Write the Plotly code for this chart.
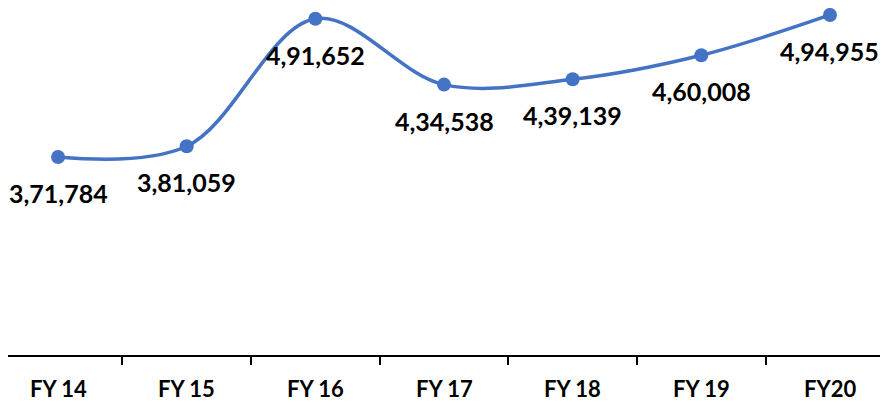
import plotly.graph_objects as go

years = ["FY 14", "FY 15", "FY 16", "FY 17", "FY 18", "FY 19", "FY20"]
values = [371784, 381059, 491652, 434538, 439139, 460008, 494955]
labels = ["3,71,784", "3,81,059", "4,91,652", "4,34,538", "4,39,139", "4,60,008", "4,94,955"]

blue = "#4472C4"
font = "Lato"

fig = go.Figure(
    go.Scatter(
        x=list(range(len(years))),
        y=values,
        mode="lines+markers",
        line=dict(color=blue, width=3.5, shape="spline", smoothing=1.0),
        marker=dict(color=blue, size=14),
        cliponaxis=False,
        hoverinfo="skip",
    )
)

for i, (v, t) in enumerate(zip(values, labels)):
    fig.add_annotation(
        x=i, y=v, text="<b>%s</b>" % t, showarrow=False,
        yshift=-36, font=dict(family=font, size=25, color="#000000"),
    )

# page body has an 8px margin, so the figure is 8px smaller each way
fig.update_layout(
    width=880,
    height=395,
    margin=dict(l=0, r=0, t=0, b=48),
    plot_bgcolor="white",
    paper_bgcolor="white",
    showlegend=False,
    xaxis=dict(
        range=[-0.389, 6.451],
        tickvals=[i + 0.5 for i in range(-1, len(years))],
        ticktext=[""] * (len(years) + 1),
        ticks="outside",
        ticklen=8,
        tickwidth=2,
        tickcolor="#000000",
        showline=True,
        linecolor="#000000",
        linewidth=2,
        showgrid=False,
        zeroline=False,
    ),
    yaxis=dict(
        range=[200000, 501000],
        visible=False,
        showgrid=False,
        zeroline=False,
    ),
)

for i, y in enumerate(years):
    fig.add_annotation(
        x=i, y=0, xref="x", yref="paper", yanchor="middle", yshift=-33,
        text="<b>%s</b>" % y, showarrow=False,
        font=dict(family=font, size=22, color="#000000"),
    )

fig.write_html("out.html")
